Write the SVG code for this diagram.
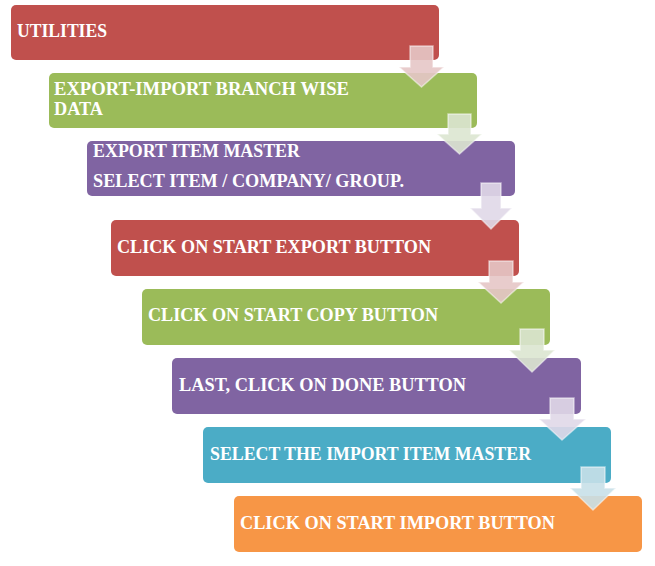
<svg xmlns="http://www.w3.org/2000/svg" width="655" height="566" viewBox="0 0 655 566">
<style>
.box{stroke:none}
.red{fill:#C0504D}.green{fill:#9BBB59}.purple{fill:#8064A2}.teal{fill:#4BACC6}.orange{fill:#F79646}
.lbl{font-family:"Liberation Serif",serif;font-weight:bold;font-size:19px;fill:#FFFFFF}
.arr{stroke:#FFFFFF;stroke-opacity:0.5;stroke-width:1.5;fill-opacity:0.9}
.a-red{fill:#E6C6C7}.a-green{fill:#DCE5D0}.a-purple{fill:#E0D8E8}.a-teal{fill:#C8E0E8}
</style>
<g id="node1"><rect class="box red" x="11" y="5" width="428" height="55" rx="5"/><text class="lbl" x="17" y="37" textLength="90" lengthAdjust="spacingAndGlyphs">UTILITIES</text></g>
<g id="node2"><rect class="box green" x="49" y="73" width="428" height="55" rx="5"/><text class="lbl" x="54" y="95" textLength="295" lengthAdjust="spacingAndGlyphs">EXPORT-IMPORT BRANCH WISE</text><text class="lbl" x="54" y="115" textLength="49" lengthAdjust="spacingAndGlyphs">DATA</text></g>
<g id="node3"><rect class="box purple" x="87" y="141" width="428" height="55" rx="5"/><text class="lbl" x="93" y="157" textLength="207" lengthAdjust="spacingAndGlyphs">EXPORT ITEM MASTER</text><text class="lbl" x="93" y="187" textLength="311" lengthAdjust="spacingAndGlyphs">SELECT ITEM / COMPANY/ GROUP.</text></g>
<g id="node4"><rect class="box red" x="111" y="220" width="408" height="56" rx="5"/><text class="lbl" x="117" y="253" textLength="314" lengthAdjust="spacingAndGlyphs">CLICK ON START EXPORT BUTTON</text></g>
<g id="node5"><rect class="box green" x="142" y="289" width="408" height="56" rx="5"/><text class="lbl" x="148" y="321" textLength="290" lengthAdjust="spacingAndGlyphs">CLICK ON START COPY BUTTON</text></g>
<g id="node6"><rect class="box purple" x="172" y="358" width="409" height="56" rx="5"/><text class="lbl" x="179" y="391" textLength="287" lengthAdjust="spacingAndGlyphs">LAST, CLICK ON DONE BUTTON</text></g>
<g id="node7"><rect class="box teal" x="203" y="427" width="408" height="56" rx="5"/><text class="lbl" x="210" y="460" textLength="321" lengthAdjust="spacingAndGlyphs">SELECT THE IMPORT ITEM MASTER</text></g>
<g id="node8"><rect class="box orange" x="234" y="496" width="408" height="56" rx="5"/><text class="lbl" x="240" y="529" textLength="315" lengthAdjust="spacingAndGlyphs">CLICK ON START IMPORT BUTTON</text></g>
<g id="connectors">
<polygon class="arr a-red" points="410,46 433,46 433,67 444,67 421.5,87 399,67 410,67"/>
<polygon class="arr a-green" points="448,114 471,114 471,134 482,134 459.5,154 437,134 448,134"/>
<polygon class="arr a-purple" points="481,183 501,183 501,208 512,208 491,229 470,208 481,208"/>
<polygon class="arr a-red" points="489,261 513,261 513,282 524,282 501,303 478,282 489,282"/>
<polygon class="arr a-green" points="520,329 544,329 544,350 555,350 532,372 509,350 520,350"/>
<polygon class="arr a-purple" points="550,398 574,398 574,419 586,419 562,440 539,419 550,419"/>
<polygon class="arr a-teal" points="581,467 605,467 605,488 616,488 593,510 570,488 581,488"/>
</g>
</svg>
